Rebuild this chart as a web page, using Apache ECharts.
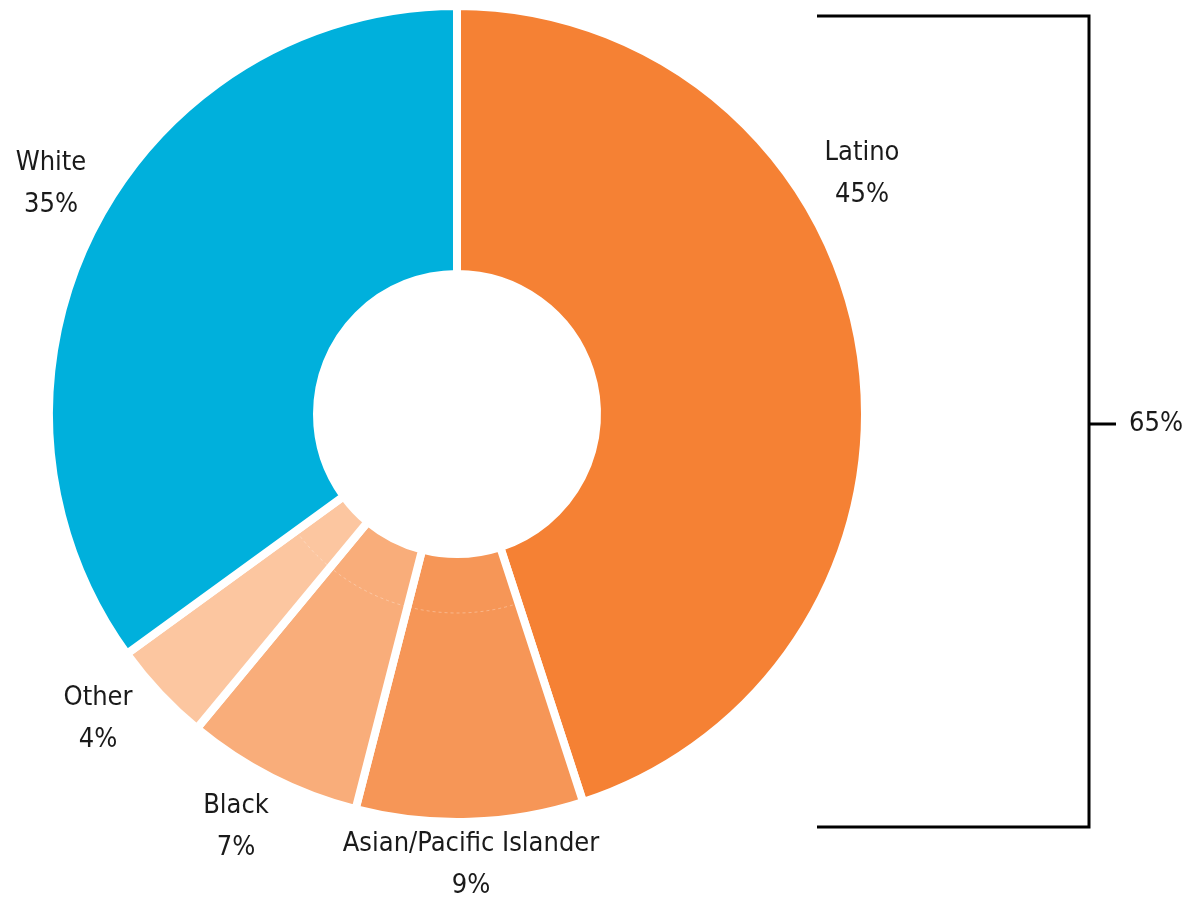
<!DOCTYPE html>
<html>
<head>
<meta charset="utf-8">
<script src="https://cdn.jsdelivr.net/npm/echarts@6/dist/echarts.min.js"></script>
<style>
  html, body { margin: 0; padding: 0; background: #fff; }
  #chart { width: 1186px; height: 899px; }
</style>
</head>
<body>
<div id="chart"></div>
<script>
// ---- data ----
const categories = ['Latino', 'Asian/Pacific Islander', 'Black', 'Other', 'White'];
const shares = [45, 9, 7, 4, 35];
const sliceColors = ['#F58134', '#F69657', '#F9AD7A', '#FCC6A0', '#00B0DC'];
const bracketGroup = ['Latino', 'Asian/Pacific Islander', 'Black', 'Other'];

// ---- layout (not data) ----
const FONT = '"DejaVu Sans Condensed", "Liberation Sans Narrow", sans-serif';
const FONT_SIZE = 27;
const CX = 457, CY = 414;
const labelCenters = {
  'Latino': [862, 174],
  'Asian/Pacific Islander': [471, 865],
  'Black': [236, 827],
  'Other': [98, 719],
  'White': [51, 184]
};

const bracketTotal = categories.reduce((s, c, i) => bracketGroup.includes(c) ? s + shares[i] : s, 0);
const total = shares.reduce((a, b) => a + b, 0);
const startFrac = shares[0] / total;
const endFrac = (shares[0] + shares[1] + shares[2] + shares[3]) / total;
const toRad = f => (f * 360 - 90) * Math.PI / 180;

const chart = echarts.init(document.getElementById('chart'), null, { renderer: 'canvas' });
chart.setOption({
  backgroundColor: '#fff',
  animation: false,
  series: [{
    type: 'pie',
    center: [CX, CY],
    radius: [140, 408],
    startAngle: 90,
    clockwise: true,
    avoidLabelOverlap: false,
    itemStyle: { borderColor: '#fff', borderWidth: 8 },
    label: {
      show: true,
      position: 'outside',
      formatter: p => p.name + '\n' + p.value + '%',
      fontFamily: FONT,
      fontSize: FONT_SIZE,
      lineHeight: 42,
      color: '#1a1a1a',
      align: 'center'
    },
    labelLine: { show: false },
    labelLayout: function (params) {
      const c = labelCenters[categories[params.dataIndex]];
      return { x: c[0], y: c[1], align: 'center', verticalAlign: 'middle' };
    },
    emphasis: { disabled: true },
    data: categories.map((c, i) => ({ name: c, value: shares[i], itemStyle: { color: sliceColors[i] } }))
  }],
  graphic: [
    {
      type: 'arc',
      shape: { cx: CX, cy: CY, r: 199, startAngle: toRad(startFrac), endAngle: toRad(endFrac), clockwise: true },
      style: { stroke: 'rgba(255,255,255,0.3)', fill: null, lineWidth: 1, lineDash: [3, 3] },
      z: 10
    },
    {
      type: 'polyline',
      shape: { points: [[817, 16], [1089, 16], [1089, 827], [817, 827]] },
      style: { stroke: '#000', lineWidth: 3, fill: null },
      z: 10
    },
    {
      type: 'line',
      shape: { x1: 1089, y1: 424, x2: 1116, y2: 424 },
      style: { stroke: '#000', lineWidth: 3 },
      z: 10
    },
    {
      type: 'text',
      x: 1129, y: 424,
      style: { text: bracketTotal + '%', font: FONT_SIZE + 'px ' + FONT, fill: '#1a1a1a', verticalAlign: 'middle', align: 'left' },
      z: 10
    }
  ]
});
</script>
</body>
</html>
